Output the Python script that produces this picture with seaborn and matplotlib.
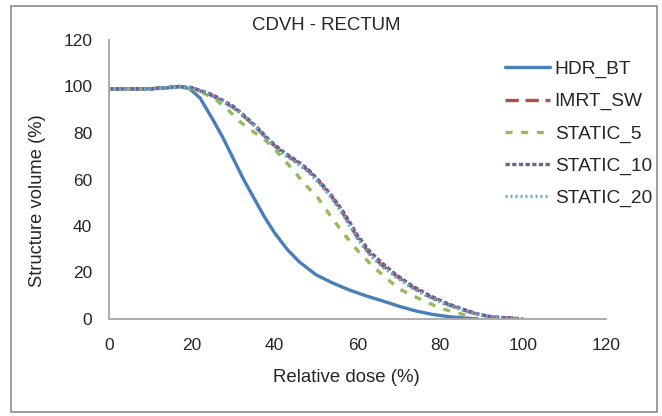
import numpy as np
import pandas as pd
import seaborn as sns
import matplotlib
matplotlib.use("Agg")
import matplotlib.pyplot as plt
import matplotlib.patches as patches

# Data
plans = ["HDR_BT", "IMRT_SW", "STATIC_5", "STATIC_10", "STATIC_20"]

hdr_dose = [0, 5, 10, 15, 17, 19.5, 22, 25, 27.5, 30, 32.5, 35, 37.5, 40, 43, 46, 50, 54, 58, 62, 66, 70, 74, 78, 82, 86, 89]
hdr_vol = [99, 99, 99, 99.5, 100, 99, 95, 86, 78, 69, 60, 52, 44, 37, 30, 24.5, 19, 15.5, 12.5, 10, 7.8, 5.5, 3.5, 2, 1, 0.4, 0]

imrt_dose = [0, 10, 17, 20, 25, 30, 33, 36, 39, 42, 45, 48, 51, 54, 57, 60, 63, 66, 69, 73, 77, 81, 85, 89, 92, 96, 100]
imrt_vol = [99, 99, 100, 99.5, 96, 91, 86.5, 81.5, 76, 71.5, 68, 64, 58.5, 52, 44, 35, 28, 23, 19, 14, 10, 6.8, 4.2, 2, 1, 0.5, 0.1]

s5_dose = [0, 10, 17, 20, 23, 26, 29, 31.5, 34, 37, 39.5, 42, 44.5, 47, 50.5, 54, 57, 60, 63.5, 67, 70, 74, 77, 80, 83.5, 86.5, 88]
s5_vol = [99, 99, 100, 99, 97, 94, 89.5, 85, 81.5, 78, 74, 69, 64, 58.5, 52, 43, 36, 29.5, 23, 17.5, 13, 9.5, 7, 4.7, 2.8, 1.6, 0.5]

s10_dose = [0, 10, 17, 20, 25, 30, 33, 36, 39, 42, 45, 48, 51, 54, 57, 60, 63, 66, 69, 73, 77, 81, 85, 89, 92, 96, 100]
s10_vol = [99, 99, 100, 99.5, 96.5, 91.5, 87, 82, 76.5, 72, 68.5, 64.5, 59, 52.5, 45, 36, 29, 24, 19.5, 14.5, 10.5, 7.2, 4.5, 2.2, 1.1, 0.5, 0.1]

s20_dose = [0, 10, 17, 20, 25, 30, 33, 36, 39, 42, 45, 48, 51, 54, 57, 60, 63, 66, 69, 73, 77, 81, 85, 89, 92, 96, 100]
s20_vol = [99, 99, 100, 99.5, 96, 91, 86.5, 81.5, 76, 71, 67.5, 63.5, 58, 51.5, 43.5, 34.5, 27.5, 22.5, 18.5, 13.5, 9.7, 6.5, 4, 1.9, 0.9, 0.4, 0.1]

colours = ["#4a7ebb", "#b0504d", "#98b954", "#6f5f98", "#5fb0c8"]

frames = []
for name, d, v in zip(plans,
                      [hdr_dose, imrt_dose, s5_dose, s10_dose, s20_dose],
                      [hdr_vol, imrt_vol, s5_vol, s10_vol, s20_vol]):
    frames.append(pd.DataFrame({"dose": d, "volume": v, "plan": name}))
df = pd.concat(frames, ignore_index=True)

sns.set_style("white")
plt.rcParams["font.family"] = ["Liberation Sans", "DejaVu Sans"]

dpi = 100
fig = plt.figure(figsize=(662 / dpi, 416 / dpi), dpi=dpi)
ax = fig.add_axes([109 / 662, 1 - 319 / 416, (606 - 109) / 662, (319 - 40) / 416])

dashes = {"HDR_BT": "", "IMRT_SW": (4, 2), "STATIC_5": (2.1, 2.6),
          "STATIC_10": (1.3, 0.7), "STATIC_20": (0.6, 0.9)}
sns.lineplot(data=df, x="dose", y="volume", hue="plan", style="plan",
             hue_order=plans, style_order=plans, palette=colours,
             dashes=dashes, linewidth=2.4, sort=False, ax=ax, legend=True)

handles, labels = ax.get_legend_handles_labels()
ax.get_legend().remove()
leg = ax.legend(handles, labels, frameon=False, loc="upper left",
                bbox_to_anchor=(497 / 662, 1 - 53 / 416), bbox_transform=fig.transFigure,
                fontsize=13.8, handlelength=2.35, handletextpad=0.26, labelspacing=0.76,
                borderaxespad=0)
for line in leg.get_lines():
    line.set_linewidth(2.4)

ax.set_xlim(0, 120)
ax.set_ylim(0, 120)
ax.set_xticks(np.arange(0, 121, 20))
ax.set_yticks(np.arange(0, 121, 20))
ax.tick_params(length=0, labelsize=12.5)
ax.tick_params(axis="x", pad=14)
ax.tick_params(axis="y", pad=12)
ax.set_xlabel("")
ax.set_ylabel("")
ax.grid(False)
for s in ["top", "right"]:
    ax.spines[s].set_visible(False)
for s in ["left", "bottom"]:
    ax.spines[s].set_color("#a6a6a6")
    ax.spines[s].set_linewidth(1.3)

fig.text(326 / 662, 1 - 26 / 416, "CDVH - RECTUM", ha="center", va="center", fontsize=13.4)
fig.text(346 / 662, 1 - 378 / 416, "Relative dose (%)", ha="center", va="center", fontsize=13.4)
fig.text(38 / 662, 1 - 201 / 416, "Structure volume (%)", ha="center", va="center",
         rotation=90, fontsize=13.2)

border = patches.Rectangle((11 / 662, 1 - 412 / 416), (657 - 11) / 662, (412 - 6) / 416,
                           transform=fig.transFigure, fill=False, edgecolor="#8c8c8c",
                           linewidth=1.2)
fig.add_artist(border)

plt.savefig("out.png", dpi=dpi)
